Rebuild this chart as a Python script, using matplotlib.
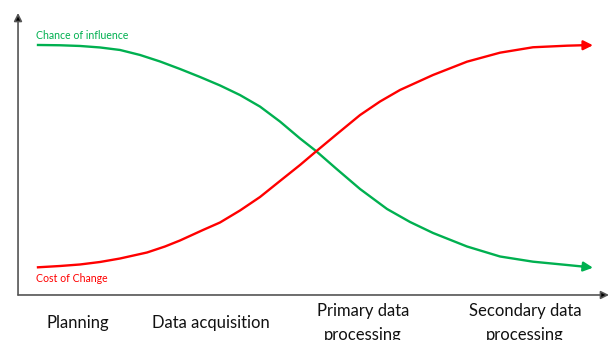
import matplotlib.pyplot as plt

# stage positions along the horizontal axis (0..100) and curve levels (0..100)
stages = ["Planning", "Data acquisition", "Primary data\nprocessing", "Secondary data\nprocessing"]
stage_x = [10.2, 32.7, 58.4, 85.8]

influence_x = [3.38, 7.11, 10.49, 13.87, 17.26, 20.64, 24.03, 27.41, 30.80, 34.18, 37.56, 40.95,
               44.33, 47.72, 50.42, 53.81, 57.87, 62.44, 66.33, 70.22, 75.97, 81.56, 87.14,
               92.89, 95.43, 97.29]
influence_y = [88.65, 88.55, 88.30, 87.77, 86.88, 85.11, 82.80, 80.14, 77.30, 74.30, 70.90, 66.80,
               61.50, 55.50, 51.06, 44.86, 37.59, 30.50, 25.89, 21.99, 17.20, 13.65, 11.81,
               10.64, 10.11, 9.68]

cost_x = [3.38, 7.11, 10.49, 13.87, 17.26, 21.83, 24.87, 27.41, 31.30, 34.18, 37.56, 40.95,
          44.33, 47.72, 50.42, 53.98, 57.87, 61.25, 64.64, 70.22, 75.97, 81.56, 87.14,
          92.89, 95.43, 97.29]
cost_y = [9.82, 10.28, 10.82, 11.70, 12.94, 15.07, 17.20, 19.33, 23.05, 25.71, 29.96, 34.75,
          40.43, 46.10, 50.89, 57.10, 63.80, 68.60, 72.70, 78.01, 82.73, 85.92, 87.84,
          88.40, 88.55, 88.55]

green = "#00b050"
red = "#ff0000"

fig = plt.figure(figsize=(6.09, 3.4), dpi=100)
ax = fig.add_axes([0, 0, 1, 1])
ax.set_xlim(-3.05, 100)
ax.set_ylim(-15.96, 104.6)
ax.axis("off")

# axes with arrow heads
for tip in [(0, 100), (100, 0)]:
    ax.annotate("", xy=tip, xytext=(0, 0),
                arrowprops=dict(arrowstyle="-|>", lw=1.2, mutation_scale=12,
                                shrinkA=0, shrinkB=0, fc="black", ec="#555555"))

# curves, last segment drawn as arrow
ax.plot(influence_x[:-1], influence_y[:-1], color=green, lw=1.7, solid_joinstyle="round")
ax.annotate("", xy=(influence_x[-1], influence_y[-1]), xytext=(influence_x[-2], influence_y[-2]),
            arrowprops=dict(arrowstyle="-|>", color=green, lw=1.7, mutation_scale=14,
                            shrinkA=0, shrinkB=0))
ax.plot(cost_x[:-1], cost_y[:-1], color=red, lw=1.7, solid_joinstyle="round")
ax.annotate("", xy=(cost_x[-1], cost_y[-1]), xytext=(cost_x[-2], cost_y[-2]),
            arrowprops=dict(arrowstyle="-|>", color=red, lw=1.7, mutation_scale=14,
                            shrinkA=0, shrinkB=0))

ax.text(3.0, 90.8, "Chance of influence", color=green, fontsize=7.6, family="Lato",
        ha="left", va="baseline")
ax.text(3.0, 4.7, "Cost of Change", color=red, fontsize=7.6, family="Lato",
        ha="left", va="baseline")

# the second lines run off the bottom edge, as in the reference
for x, s in zip(stage_x, stages):
    ax.text(x, -9.9, s, fontsize=12, family="Lato", ha="center", va="center",
            linespacing=1.6, color="#111111")

fig.savefig("out.png", dpi=100)
